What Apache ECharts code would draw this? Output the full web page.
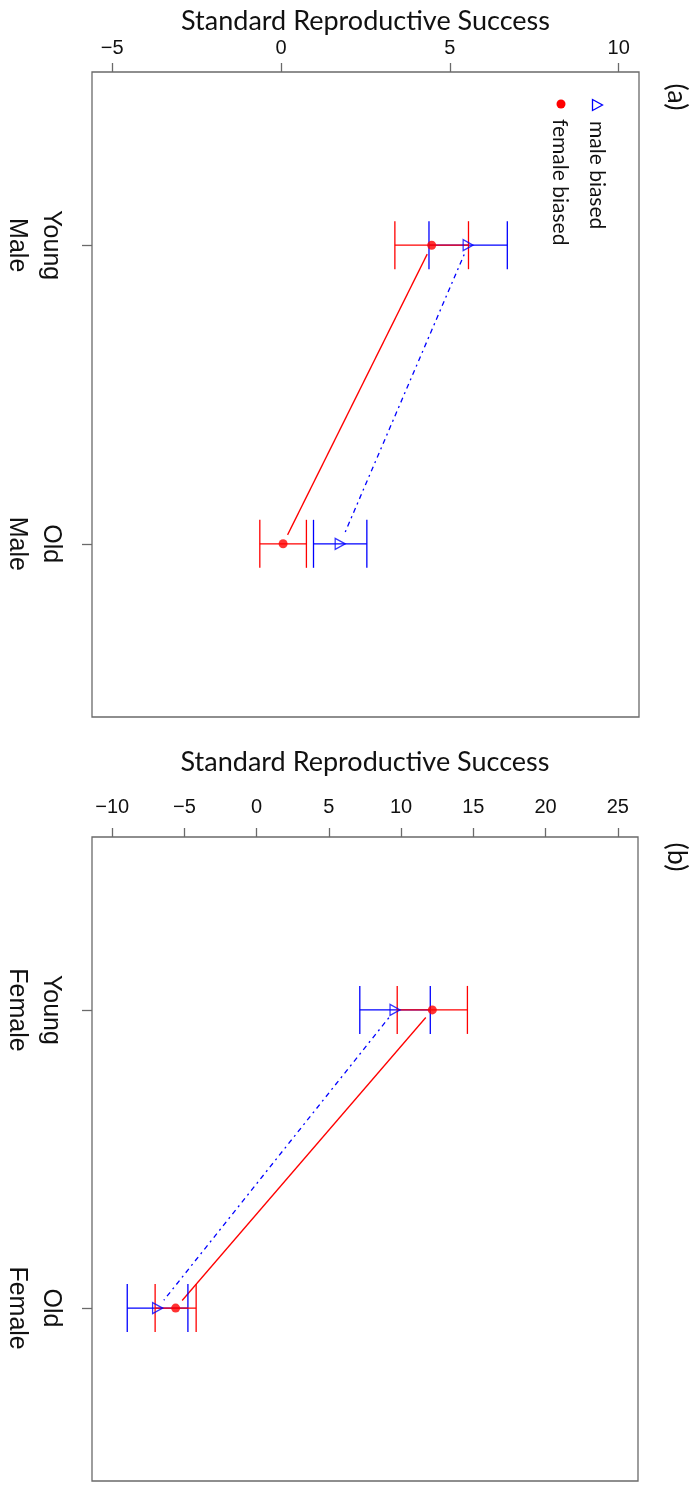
<!DOCTYPE html>
<html>
<head>
<meta charset="utf-8">
<script src="https://cdn.jsdelivr.net/npm/echarts@6/dist/echarts.min.js"></script>
<style>
  html, body { margin: 0; padding: 0; background: #fff; }
  #chart { width: 696px; height: 1485px; }
</style>
</head>
<body>
<div id="chart"></div>
<script>
// Panel (a): males
const categoriesA = ['Young\nMale', 'Old\nMale'];
const maleBiasedA = [5.54, 1.75];
const maleBiasedErrA = [1.16, 0.79];
const femaleBiasedA = [4.46, 0.06];
const femaleBiasedErrA = [1.09, 0.69];
const ticksA = [-5, 0, 5, 10];

// Panel (b): females
const categoriesB = ['Young\nFemale', 'Old\nFemale'];
const maleBiasedB = [9.58, -6.86];
const maleBiasedErrB = [2.44, 2.10];
const femaleBiasedB = [12.16, -5.61];
const femaleBiasedErrB = [2.43, 1.42];
const ticksB = [-10, -5, 0, 5, 10, 15, 20, 25];

const seriesNames = ['male biased', 'female biased'];
const axisTitle = 'Standard Reproductive Success';
const panelTags = ['(a)', '(b)'];

const BLUE = '#0000ff';
const RED = '#ff0000';
const GREY = '#6a6a6a';
const LW = 1.3;

const chart = echarts.init(document.getElementById('chart'), null, { renderer: 'canvas' });

function fmtNum(v) { return v < 0 ? '\u2212' + Math.abs(v) : String(v); }

// padded range in the style of R's 4% axis extension
function padded(lo, hi) { const d = (hi - lo) * 0.04; return [lo - d, hi + d]; }

function errorData(means, errs) {
  return means.map((m, i) => [m, i + 1, m - errs[i], m + errs[i]]);
}
function segmentData(means) {
  return [[means[0], 1, means[1], 2]];
}

function errorBarRender(color) {
  return function (params, api) {
    const y = api.value(1);
    const lo = api.coord([api.value(2), y]);
    const hi = api.coord([api.value(3), y]);
    const h = 24;
    const st = { stroke: color, lineWidth: LW };
    return {
      type: 'group',
      children: [
        { type: 'line', shape: { x1: lo[0], y1: lo[1], x2: hi[0], y2: hi[1] }, style: st },
        { type: 'line', shape: { x1: lo[0], y1: lo[1] - h, x2: lo[0], y2: lo[1] + h }, style: st },
        { type: 'line', shape: { x1: hi[0], y1: hi[1] - h, x2: hi[0], y2: hi[1] + h }, style: st }
      ]
    };
  };
}

// line between the two age classes, with a small gap left around each point
function segmentRender(color, dash) {
  return function (params, api) {
    const p1 = api.coord([api.value(0), api.value(1)]);
    const p2 = api.coord([api.value(2), api.value(3)]);
    const dx = p2[0] - p1[0], dy = p2[1] - p1[1];
    const len = Math.sqrt(dx * dx + dy * dy);
    const g = 10;
    const ux = dx / len, uy = dy / len;
    return {
      type: 'line',
      shape: { x1: p1[0] + ux * g, y1: p1[1] + uy * g, x2: p2[0] - ux * g, y2: p2[1] - uy * g },
      style: { stroke: color, lineWidth: LW, lineDash: dash || null }
    };
  };
}

function panelSeries(idx, maleM, maleE, femM, femE) {
  const ax = { xAxisIndex: idx, yAxisIndex: idx };
  const toPts = (arr) => arr.map((v, i) => [v, i + 1]);
  return [
    Object.assign({ type: 'custom', name: seriesNames[0] + ' line', renderItem: segmentRender(BLUE, [2, 4, 5, 4]),
      data: segmentData(maleM), encode: { x: [0, 2], y: [1, 3] }, silent: true, z: 2 }, ax),
    Object.assign({ type: 'custom', name: seriesNames[1] + ' line', renderItem: segmentRender(RED),
      data: segmentData(femM), encode: { x: [0, 2], y: [1, 3] }, silent: true, z: 2 }, ax),
    Object.assign({ type: 'custom', name: seriesNames[0] + ' err', renderItem: errorBarRender(BLUE),
      data: errorData(maleM, maleE), encode: { x: [2, 3], y: 1 }, silent: true, z: 3 }, ax),
    Object.assign({ type: 'custom', name: seriesNames[1] + ' err', renderItem: errorBarRender(RED),
      data: errorData(femM, femE), encode: { x: [2, 3], y: 1 }, silent: true, z: 4 }, ax),
    Object.assign({ type: 'scatter', name: seriesNames[0], data: toPts(maleM),
      symbol: 'triangle', symbolSize: [11, 10], symbolRotate: -90,
      itemStyle: { color: 'rgba(0,0,0,0)', borderColor: BLUE, borderWidth: LW }, z: 5, silent: true }, ax),
    Object.assign({ type: 'scatter', name: seriesNames[1], data: toPts(femM),
      symbol: 'circle', symbolSize: 9, itemStyle: { color: RED }, z: 6, silent: true }, ax)
  ];
}

const rangeA = padded(ticksA[0], ticksA[ticksA.length - 1]);
const rangeB = padded(ticksB[0], ticksB[ticksB.length - 1]);
const catRange = padded(0.5, 2.5);

function xAxisFor(idx, range, ticks, nameGap, labelMargin) {
  return {
    type: 'value', gridIndex: idx, position: 'top',
    min: range[0], max: range[1],
    name: axisTitle, nameLocation: 'middle', nameGap: nameGap,
    nameTextStyle: { fontFamily: 'Lato', fontSize: 27, color: '#111' },
    axisLine: { show: false, onZero: false },
    axisTick: { show: true, inside: false, length: 9, customValues: ticks, lineStyle: { color: GREY, width: LW } },
    axisLabel: { customValues: ticks, formatter: fmtNum, margin: labelMargin,
      fontFamily: 'Liberation Sans', fontSize: 20, color: '#111' },
    splitLine: { show: false }
  };
}
function yAxisFor(idx, cats) {
  return {
    type: 'value', gridIndex: idx, inverse: true, position: 'left',
    min: catRange[0], max: catRange[1],
    axisLine: { show: false, onZero: false },
    axisTick: { show: true, length: 10, customValues: [1, 2], lineStyle: { color: GREY, width: LW } },
    axisLabel: { customValues: [1, 2], formatter: (v) => cats[Math.round(v) - 1] || '',
      rotate: -90, margin: 24, fontFamily: 'Liberation Sans', fontSize: 25, lineHeight: 34, color: '#111' },
    splitLine: { show: false }
  };
}

const gridStyle = { show: true, borderColor: GREY, borderWidth: LW, backgroundColor: 'transparent' };

function rotText(text, x, y, size, align) {
  return {
    type: 'text', x: x, y: y, rotation: -Math.PI / 2,
    style: { text: text, fontFamily: 'Lato', fontSize: size, fill: '#111',
      textAlign: align || 'center', textVerticalAlign: 'middle' }
  };
}

const option = {
  animation: false,
  backgroundColor: '#fff',
  grid: [
    Object.assign({ left: 91, top: 72, width: 548, height: 645 }, gridStyle),
    Object.assign({ left: 91, top: 837, width: 547, height: 644 }, gridStyle)
  ],
  xAxis: [xAxisFor(0, rangeA, ticksA, 37, 14), xAxisFor(1, rangeB, ticksB, 61, 20)],
  yAxis: [yAxisFor(0, categoriesA), yAxisFor(1, categoriesB)],
  series: [].concat(
    panelSeries(0, maleBiasedA, maleBiasedErrA, femaleBiasedA, femaleBiasedErrA),
    panelSeries(1, maleBiasedB, maleBiasedErrB, femaleBiasedB, femaleBiasedErrB)
  ),
  graphic: [
    // legend of panel (a)
    { type: 'polygon', x: 597, y: 105, shape: { points: [[-4.5, -5.5], [5.5, 0], [-4.5, 5.5]] },
      style: { fill: 'none', stroke: BLUE, lineWidth: LW } },
    rotText(seriesNames[0], 597, 121, 21, 'left'),
    { type: 'circle', shape: { cx: 561, cy: 104, r: 4.5 }, style: { fill: RED } },
    rotText(seriesNames[1], 560, 119, 21, 'left'),
    // panel tags
    rotText(panelTags[0], 677, 97, 27, 'center'),
    rotText(panelTags[1], 677, 857, 27, 'center')
  ]
};

chart.setOption(option);
</script>
</body>
</html>
